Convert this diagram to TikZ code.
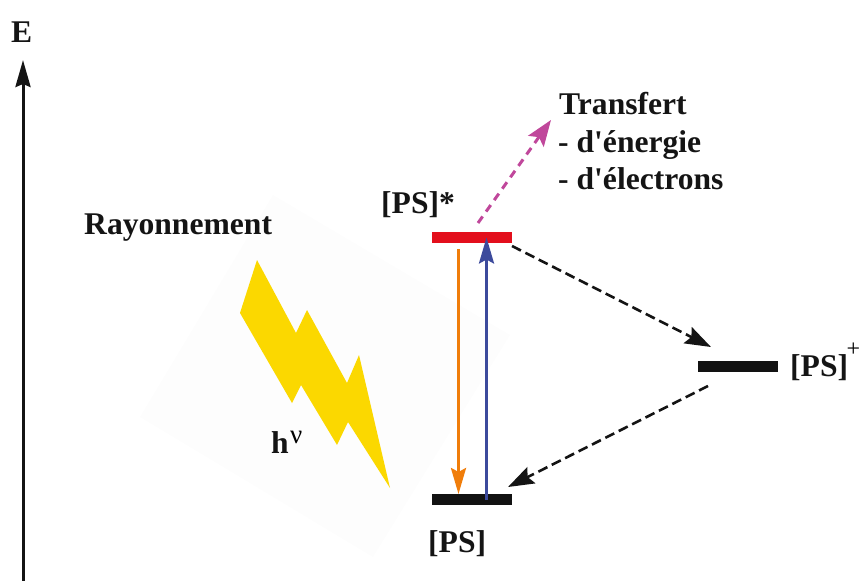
\documentclass[tikz,border=0pt]{standalone}
\usepackage{fontspec}
\newfontfamily\lib{Liberation Serif}
\usetikzlibrary{arrows.meta,calc}
\tikzset{
  x=1pt,y=-1pt,
  lbl/.style={inner sep=0pt,font=\lib\fontsize{31.6}{36}\selectfont\bfseries,text=black!92,anchor=base west},
  lvl/.style={draw=none,fill=#1,minimum width=80pt,minimum height=11pt,inner sep=0pt,outer sep=0pt,rectangle},
  tip/.style={-{Stealth[length=26pt,width=15pt,inset=4pt]}},
  axisline/.style={line width=3pt,black!92,-{Stealth[length=27pt,width=15pt,inset=3pt]}},
  solidarrow/.style={line width=3pt,tip},
  dasharrow/.style={line width=2.6pt,black!92,-{Stealth[length=26pt,width=18pt,inset=4pt]},dash pattern=on 10pt off 5pt},
  magarrow/.style={line width=3pt,cMag,-{Stealth[length=26pt,width=19pt,inset=5pt]},dash pattern=on 8pt off 6pt},
}
\definecolor{cRed}{HTML}{E30F1C}
\definecolor{cOrange}{HTML}{F07D0A}
\definecolor{cBlue}{HTML}{3C4A9C}
\definecolor{cMag}{HTML}{C0479B}
\definecolor{cBolt}{HTML}{FBD800}
\definecolor{cBlack}{HTML}{121212}
\definecolor{cHaze}{HTML}{FDFDFD}
\begin{document}
\begin{tikzpicture}
\useasboundingbox (0,0) rectangle (860,581);
% pale image background behind the lightning
\fill[cHaze] (140,417) -- (273,195) -- (510,335) -- (373,557) -- cycle;
\fill[cBolt] (257,260) -- (240,313) -- (292,403) -- (301,385) -- (337,445) -- (348,422)
  -- (390,488) -- (359,355) -- (347,383) -- (307,310) -- (296,333) -- cycle;
% levels
\node[lvl=cRed] (excited) at (472,237.5) {};
\node[lvl=cBlack] (ground) at (472,499.5) {};
\node[lvl=cBlack] (cation) at (738,366.5) {};
% free ends
\coordinate (axisbottom) at (23,581);
\coordinate (axistop) at (23,60);
\coordinate (transfer) at (551,120);
% labels
\node[lbl] (e) at (11,42) {E};
\node[lbl] (ray) at (84,234) {Rayonnement};
\node[lbl] (hv) at (271,453) {h};
\node[inner sep=0pt,anchor=base west,font=\lib\fontsize{27}{31}\selectfont] (nu) at (290,443) {ν};
\node[lbl] (ps1) at (381,213) {[PS]*};
\node[lbl] (ps2) at (428,552) {[PS]};
\node[lbl] (ps3) at (790,376) {[PS]};
\node[inner sep=0pt,anchor=base west,font=\lib\fontsize{24}{28}\selectfont] (plus) at (846.5,356) {+};
\node[lbl] (t1) at (559,114) {Transfert};
\node[lbl] (t2) at (558,152) {- d'énergie};
\node[lbl] (t3) at (558,189) {- d'électrons};
% connectors
\draw[axisline] (axisbottom) -- (axistop);
\draw[solidarrow,cOrange] ($(excited.south west)+(26.5,6)$) -- ($(ground.north west)+(26.5,0)$);
\draw[solidarrow,cBlue] ($(ground.west)+(54.5,0)$) -- ($(excited.west)+(54.5,0)$);
\draw[magarrow] ($(excited.north)+(6,-9)$) -- (transfer);
\draw[dasharrow] ($(excited.south east)+(0,3)$) -- ($(cation.north)+(-27,-14)$);
\draw[dasharrow] ($(cation.south)+(-30,14)$) -- ($(ground.north east)+(-4,-7)$);
\end{tikzpicture}
\end{document}
